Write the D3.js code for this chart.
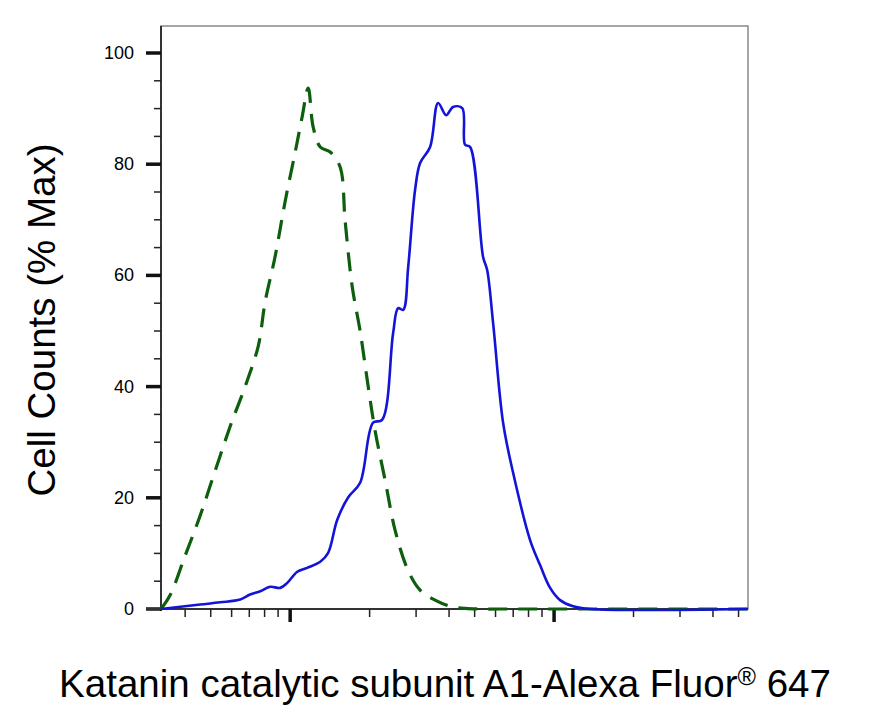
<!DOCTYPE html>
<html><head><meta charset="utf-8">
<script src="https://cdn.jsdelivr.net/npm/d3@7/dist/d3.min.js"></script>
<style>body{margin:0;background:#fff}</style></head>
<body><svg id="c" width="872" height="718"></svg>
<script>
const isoX=[324,351,400,456,520,593,676,757,804,877,957,1045,1110,1170,1222,1300,1418,1546,1616,1718,1841,1974,2099,2291,2500,2800,3107,3540,4036,4600,5248,6240,54300];
const isoY=[0,2.5,9.6,16.8,24.9,32.9,40.1,47.3,55.3,63.4,73.3,82.2,88.5,93.7,86.7,83.1,82.2,79.5,69.7,58,50,40.1,32,23.1,14.1,6.9,3.4,1.6,0.5,0.1,0,0,0];
const abX=[324,456,543,647,705,770,840,917,975,1064,1159,1300,1393,1507,1660,1841,2061,2230,2455,2565,2680,2800,2974,3107,3390,3636,3900,4141,4487,4600,4808,5383,5575,5875,6410,6995,8110,8850,9660,10540,11800,13680,54300];
const abY=[0,0.8,1.2,1.7,2.6,3.2,4.0,3.8,4.7,6.7,7.4,8.5,10.1,16.0,20.1,22.7,33.5,34.0,49.6,54.1,53.8,61.5,75.4,80.2,83.1,91.0,88.8,90.3,90.1,83.5,83.1,63.3,61.0,51.4,33.5,24.5,12.4,7.9,3.8,1.6,0.5,0,0];
const yMajor=[0,20,40,60,80,100];
const xMajor=[1000,10000];
const xMinor=[400,500,600,700,800,900,2000,3000,4000,5000,6000,7000,8000,9000,20000,30000,40000,50000];

const svg=d3.select("#c");
const L=161,R=748,T=26,B=609;
const x=d3.scaleLog().domain([324,54300]).range([L,R]);
const y=d3.scaleLinear().domain([0,100]).range([B,53]);
const F="Liberation Sans, Arial, sans-serif";

svg.append("rect").attr("x",L).attr("y",T).attr("width",R-L).attr("height",B-T)
  .attr("fill","none").attr("stroke","#888").attr("stroke-width",1.5);

const ya=svg.append("g").attr("transform",`translate(${L},0)`);
ya.append("line").attr("y1",T).attr("y2",B+2).attr("stroke","#333").attr("stroke-width",2);
ya.selectAll(".mn").data(d3.range(0,101,5)).join("line").attr("x1",-7).attr("x2",0)
  .attr("y1",d=>y(d)).attr("y2",d=>y(d)).attr("stroke","#222").attr("stroke-width",1.5);
ya.selectAll(".mj").data(yMajor).join("line").attr("x1",-15).attr("x2",0)
  .attr("y1",d=>y(d)).attr("y2",d=>y(d)).attr("stroke","#111").attr("stroke-width",3.5);
ya.selectAll("text").data(yMajor).join("text").attr("x",-27).attr("y",d=>y(d)+6)
  .attr("text-anchor","end").attr("font-family",F).attr("font-size",18).text(d=>d);

const xa=svg.append("g").attr("transform",`translate(0,${B})`);
xa.append("line").attr("x1",L-15).attr("x2",R).attr("stroke","#333").attr("stroke-width",2);
xa.selectAll(".mn").data(xMinor).join("line").attr("x1",d=>x(d)).attr("x2",d=>x(d))
  .attr("y1",0).attr("y2",8).attr("stroke","#222").attr("stroke-width",1.5);
xa.selectAll(".mj").data(xMajor).join("line").attr("x1",d=>x(d)).attr("x2",d=>x(d))
  .attr("y1",0).attr("y2",13).attr("stroke","#111").attr("stroke-width",3.5);

const line=d3.line().x(d=>x(d[0])).y(d=>y(d[1])).curve(d3.curveCatmullRom.alpha(0.5));
svg.append("path").attr("d",line(isoX.map((v,i)=>[v,isoY[i]]))).attr("fill","none")
  .attr("stroke","#0d5e0d").attr("stroke-width",3.2).attr("stroke-dasharray","19,11");
svg.append("path").attr("d",line(abX.map((v,i)=>[v,abY[i]]))).attr("fill","none")
  .attr("stroke","#1414d8").attr("stroke-width",2.6);

svg.append("text").attr("transform","translate(55,320) rotate(-90)").attr("text-anchor","middle")
  .attr("font-family",F).attr("font-size",38.5).text("Cell Counts (% Max)");
const t=svg.append("text").attr("x",445).attr("y",697).attr("text-anchor","middle")
  .attr("font-family",F).attr("font-size",38.5);
t.append("tspan").text("Katanin catalytic subunit A1-Alexa Fluor");
t.append("tspan").attr("font-size",25).attr("dy",-12).text("®");
t.append("tspan").attr("dy",12).text(" 647");
</script></body></html>
